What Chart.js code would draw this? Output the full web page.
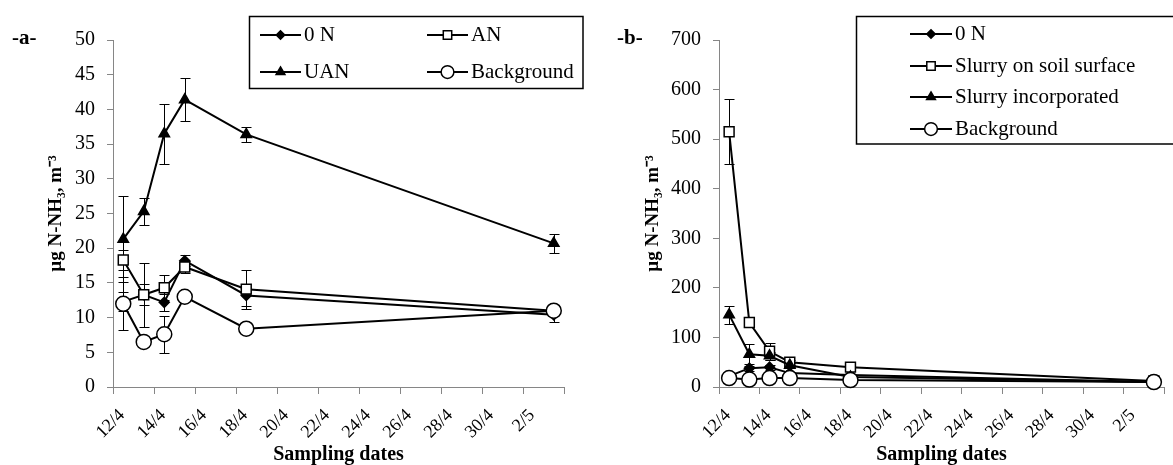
<!DOCTYPE html>
<html>
<head>
<meta charset="utf-8">
<script src="https://cdn.jsdelivr.net/npm/chart.js@4/dist/chart.umd.min.js"></script>
<style>
  body { margin: 0; background: #fff; width: 1173px; height: 465px; position: relative; overflow: hidden; }
  canvas { position: absolute; top: 0; }
  #chartA { left: 0; }
  #chartB { left: 586px; }
  .panel { position: absolute; top: 25px; font: bold 21px "Liberation Serif", serif; color: #000; }
</style>
</head>
<body>
<canvas id="chartA" width="586" height="465"></canvas>
<canvas id="chartB" width="587" height="465"></canvas>
<div class="panel" style="left:12px">-a-</div>
<div class="panel" style="left:617px">-b-</div>
<script>
// sampling dates as day of April (3/5 = day 33), sampled around midday
const sampleDays = [12.5, 13.5, 14.5, 15.5, 18.5, 33.5];
const dateTicks = ["12/4", "14/4", "16/4", "18/4", "20/4", "22/4", "24/4", "26/4", "28/4", "30/4", "2/5", ""];

// -a- mineral fertilisers
const seriesA = ["0 N", "AN", "UAN", "Background"];
const zeroN_a = [12.3, 13.3, 12.2, 18.2, 13.2, 10.4];
const zeroN_a_err = [1.4, 1.5, 1.2, 0.8, 1.6, 1.0];
const an_a = [18.3, 13.3, 14.3, 17.3, 14.1, 11.0];
const an_a_err = [1.5, 4.6, 1.8, 0.9, 2.8, 0.6];
const uan_a = [21.3, 25.3, 36.5, 41.4, 36.4, 20.7];
const uan_a_err = [6.2, 2.0, 4.3, 3.1, 1.1, 1.4];
const bg_a = [12.0, 6.5, 7.6, 13.0, 8.4, 11.0];
const bg_a_err = [3.8, 0.5, 2.7, 0.6, 0.5, 0.5];
const yTicksA = { min: 0, max: 50, step: 5 };

// -b- slurry
const seriesB = ["0 N", "Slurry on soil surface", "Slurry incorporated", "Background"];
const zeroN_b = [22, 38, 40, 28, 24, 10];
const zeroN_b_err = [3, 5, 5, 3, 3, 2];
const surf_b = [515, 130, 72, 50, 40, 12];
const surf_b_err = [66, 8, 17, 5, 5, 2];
const inc_b = [146, 66, 63, 44, 20, 10];
const inc_b_err = [18, 20, 8, 4, 3, 2];
const bg_b = [18, 15, 18, 18, 14, 10];
const bg_b_err = [2, 2, 2, 2, 2, 1];
const yTicksB = { min: 0, max: 700, step: 100 };

Chart.defaults.font.family = '"Liberation Serif", "Times New Roman", serif';
Chart.defaults.color = '#000';

const AXIS = '#868686';
const markers = [
  { pointStyle: 'rectRot', pointRadius: 5, pointBackgroundColor: '#000' },
  { pointStyle: 'rect', pointRadius: 7, pointBackgroundColor: '#fff' },
  { pointStyle: 'triangle', pointRadius: 6, pointBackgroundColor: '#000' },
  { pointStyle: 'circle', pointRadius: 7.5, pointBackgroundColor: '#fff' }
];

function makeSet(label, values, errors, i) {
  return Object.assign({
    label: label,
    data: values.map((v, k) => ({ x: sampleDays[k], y: v })),
    errors: errors,
    borderColor: '#000',
    borderWidth: 2,
    pointBorderColor: '#000',
    pointBorderWidth: 1.5,
    tension: 0,
    clip: false,
    order: 3 - i
  }, markers[i]);
}

const errorBars = {
  id: 'errorBars',
  beforeDatasetsDraw(chart) {
    const ctx = chart.ctx, xs = chart.scales.x, ys = chart.scales.y;
    ctx.save();
    ctx.strokeStyle = '#000';
    ctx.lineWidth = 1;
    chart.data.datasets.forEach(ds => {
      ds.data.forEach((p, k) => {
        const e = ds.errors[k];
        const px = Math.round(xs.getPixelForValue(p.x)) + 0.5;
        const top = Math.round(ys.getPixelForValue(p.y + e)) + 0.5;
        const bot = Math.round(ys.getPixelForValue(Math.max(0, p.y - e))) + 0.5;
        ctx.beginPath();
        ctx.moveTo(px, top); ctx.lineTo(px, bot);
        ctx.moveTo(px - 5, top); ctx.lineTo(px + 5, top);
        ctx.moveTo(px - 5, bot); ctx.lineTo(px + 5, bot);
        ctx.stroke();
      });
    });
    ctx.restore();
  }
};

const boxLegend = {
  id: 'boxLegend',
  afterDraw(chart, args, o) {
    const ctx = chart.ctx;
    ctx.save();
    ctx.strokeStyle = '#000';
    ctx.lineWidth = 1.5;
    ctx.strokeRect(o.box[0], o.box[1], o.box[2] - o.box[0], o.box[3] - o.box[1]);
    ctx.font = '21px "Liberation Serif", serif';
    ctx.textBaseline = 'middle';
    chart.data.datasets.forEach((ds, i) => {
      const x0 = o.slots[i][0], y = o.slots[i][1], x1 = x0 + o.lineLen;
      ctx.strokeStyle = '#000';
      ctx.lineWidth = 2;
      ctx.beginPath(); ctx.moveTo(x0, y); ctx.lineTo(x1, y); ctx.stroke();
      ctx.fillStyle = ds.pointBackgroundColor;
      ctx.lineWidth = ds.pointBorderWidth;
      Chart.helpers.drawPoint(ctx, { pointStyle: ds.pointStyle, radius: ds.pointRadius * 0.85, rotation: 0, borderWidth: ds.pointBorderWidth }, (x0 + x1) / 2, y);
      ctx.fillStyle = '#000';
      ctx.fillText(ds.label, x1 + 3, y);
    });
    ctx.restore();
  }
};

function makeChart(id, names, sets, yt, yWidth, titleOffset, padRight, legendOpts) {
  return new Chart(document.getElementById(id), {
    type: 'line',
    data: { datasets: sets.map((s, i) => makeSet(names[i], s[0], s[1], i)) },
    options: {
      responsive: false,
      animation: false,
      events: [],
      devicePixelRatio: 1,
      layout: { padding: { top: 40, right: padRight, left: 0, bottom: 0 } },
      plugins: { legend: { display: false }, tooltip: { enabled: false }, boxLegend: legendOpts },
      scales: {
        x: {
          type: 'linear', min: 12, max: 34,
          ticks: {
            stepSize: 2, autoSkip: false, minRotation: 45, maxRotation: 45,
            padding: 11, labelOffset: 9, font: { size: 18 },
            callback: (v, i) => dateTicks[i]
          },
          grid: { drawOnChartArea: false, tickLength: 7, color: AXIS },
          border: { color: AXIS, width: 1 },
          title: { display: true, text: 'Sampling dates', font: { size: 20, weight: 'bold', lineHeight: 1 }, padding: 0 },
          afterFit(s) { s.height = 78; s.paddingLeft = 0; s.paddingRight = 0; }
        },
        y: {
          min: yt.min, max: yt.max,
          ticks: { stepSize: yt.step, padding: 12, font: { size: 20 } },
          grid: { drawOnChartArea: false, tickLength: 6, color: AXIS },
          border: { color: AXIS, width: 1 },
          title: { display: true, text: 'µg N-NH₃, m⁻³', font: { size: 19, weight: 'bold' }, padding: { top: titleOffset, bottom: 0 } },
          afterFit(s) { s.width = yWidth; s.paddingTop = 0; s.paddingBottom = 0; }
        }
      }
    },
    plugins: [errorBars, boxLegend]
  });
}

makeChart('chartA', seriesA,
  [[zeroN_a, zeroN_a_err], [an_a, an_a_err], [uan_a, uan_a_err], [bg_a, bg_a_err]],
  yTicksA, 113, 45, 22,
  { box: [249.5, 16.5, 583, 88.5], lineLen: 41, slots: [[260, 35], [427, 35], [260, 72], [427, 72]] });

makeChart('chartB', seriesB,
  [[zeroN_b, zeroN_b_err], [surf_b, surf_b_err], [inc_b, inc_b_err], [bg_b, bg_b_err]],
  yTicksB, 133, 56, 2,
  { box: [270.5, 16.5, 700, 144], lineLen: 42, slots: [[324, 34], [324, 66], [324, 97], [324, 129]] });
</script>
</body>
</html>
